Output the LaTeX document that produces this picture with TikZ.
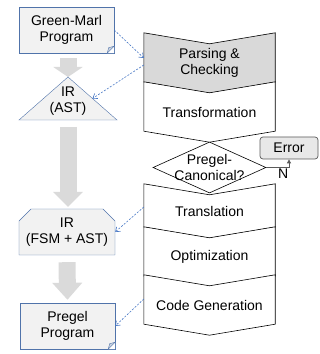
\documentclass[tikz,border=0pt]{standalone}
\usepackage{fontspec}
\setmainfont{Liberation Sans}
\usetikzlibrary{arrows.meta, shapes.geometric, shapes.misc, calc, backgrounds}
\definecolor{boxblue}{RGB}{80,115,170}
\definecolor{boxfill}{RGB}{242,242,242}
\definecolor{stagegray}{RGB}{217,217,217}
\definecolor{fatgray}{RGB}{218,218,218}
\definecolor{linkblue}{RGB}{70,118,196}
\definecolor{errgray}{RGB}{90,90,90}

\begin{document}
\begin{tikzpicture}[x=1pt, y=1pt,
  every node/.style={font=\fontsize{14}{16}\selectfont},
  doc/.style={rectangle, draw=boxblue, fill=boxfill, minimum width=95pt, minimum height=46pt, align=center, inner sep=0pt},
  irbox/.style={chamfered rectangle, chamfered rectangle corners={north west, north east}, chamfered rectangle sep=6pt, draw=boxblue, fill=boxfill, minimum width=96pt, minimum height=46pt, align=center, inner sep=0pt},
  stage/.style={rectangle, minimum width=131pt, minimum height=60pt, align=center, inner sep=0pt},
  chev/.style={draw=black, line width=0.6pt},
  decision/.style={diamond, draw=black, fill=white, line width=0.6pt, minimum width=113pt, minimum height=51pt, inner sep=0pt},
  errbox/.style={rectangle, rounded corners=3pt, draw=errgray, fill=stagegray!60, line width=0.7pt, minimum width=58pt, minimum height=22pt, inner sep=0pt},
  fat/.style={line width=17pt, draw=fatgray, -{Triangle[length=#1, width=29pt]}},
  link/.style={draw=linkblue, dashed, dash pattern=on 2pt off 1.5pt, line width=0.6pt, -{Straight Barb[length=4pt, width=6pt]}},
  nline/.style={draw=errgray, line width=0.8pt, -{Triangle[length=4pt, width=4pt]}}
]
\useasboundingbox (0,0) rectangle (320,354);

% --- linke Spalte: Programme und IR ---
\node[doc] (gm) at (66.5,324) {Green-Marl\\Program};
\coordinate (astapex) at (68,277);
\coordinate (astleft) at (19,234);
\coordinate (astright) at (117,234);
\draw[fat=10pt, shorten <=5pt] (gm.south -| astapex) -- (astapex);
\draw[draw=boxblue, fill=boxfill] (astapex) -- (astright) -- (astleft) -- cycle;
\node[align=center] (ast) at (68,253) {IR\\(AST)};
\node[irbox] (ir) at (67,122) {IR\\(FSM + AST)};
\node[doc] (pp) at (67.5,28) {Pregel\\Program};

% Eselsohren
\foreach \d in {gm, pp} {
  \fill[white] ($(\d.south east)+(-7pt,0)$) -- (\d.south east) -- ($(\d.south east)+(0,7pt)$) -- cycle;
  \draw[boxblue, fill=boxfill!75!boxblue] ($(\d.south east)+(-7pt,0)$) -- ($(\d.south east)+(0,7pt)$) -- ($(\d.south east)+(-5.5pt,5.5pt)$) -- cycle;
  \draw[boxblue] ($(\d.south east)+(-7pt,0)$) -- (\d.south west) -- (\d.north west) -- (\d.north east) -- ($(\d.south east)+(0,7pt)$);
}

% --- rechte Spalte: Compilerphasen ---
\node[stage] (parse) at (209.5,291) {Parsing \&\\Checking};
\node[stage] (transform) at (209.5,242) {Transformation};
\node[decision, label={[align=center]center:Pregel-\\Canonical?}] (canon) at (209.5,186.5) {};
\node[stage, minimum height=54pt] (translate) at (209.5,143) {Translation};
\node[stage] (optim) at (209.5,97) {Optimization};
\node[stage] (codegen) at (209.5,49) {Code Generation};
\node[errbox] (err) at (289,206) {Error};

\begin{scope}[on background layer]
  \foreach \s/\c in {parse/stagegray, transform/white, translate/white, optim/white, codegen/white}
    \draw[chev, fill=\c] (\s.north west) -- ($(\s.north)+(0,-11pt)$) -- (\s.north east)
      -- ($(\s.south east)+(0,11pt)$) -- (\s.south) -- ($(\s.south west)+(0,11pt)$) -- cycle;
\end{scope}

% Verbindungen
\draw[fat=15pt, shorten <=7pt, shorten >=2pt] ($(astleft)!0.5!(astright)$) -- (ir.north -| astapex);
\draw[fat=17pt, shorten <=7pt, shorten >=3pt] (ir.south) -- (pp.north);

\draw[link] (gm.east) -- ([yshift=5pt]parse.west);
\draw[link] ([yshift=-2pt]parse.west) -- ($(astapex)!0.5!(astright)$);
\draw[link] ([yshift=4pt]translate.west) -- (ir.east);
\draw[link] ([yshift=6pt]codegen.west) -- (pp.east);

\draw[nline] (canon.east) -| node[pos=0.37, below, inner sep=1pt] {N} (err.south);
\end{tikzpicture}
\end{document}
